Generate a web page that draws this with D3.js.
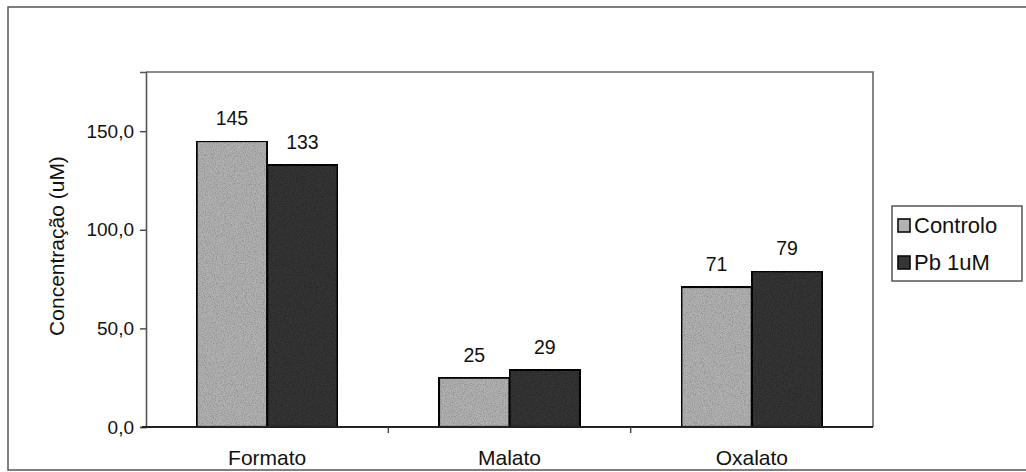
<!DOCTYPE html>
<html>
<head>
<meta charset="utf-8">
<script src="https://cdn.jsdelivr.net/npm/d3@7"></script>
<style>
  html, body { margin: 0; padding: 0; background: #fff; }
  svg { display: block; }
  text { font-family: "Liberation Sans", Arial, sans-serif; fill: #111; }
</style>
</head>
<body>
<svg id="chart" width="1026" height="472"></svg>
<script>
// Organic acid concentrations (uM)
const categories = ["Formato", "Malato", "Oxalato"];
const seriesNames = ["Controlo", "Pb 1uM"];
const controlo = [145, 25, 71];
const pb1uM = [133, 29, 79];
const yTicks = [0, 50, 100, 150];

const seriesValues = [controlo, pb1uM];
const fills = ["#b2b2b2", "#353535"];

const svg = d3.select("#chart");
const plot = { left: 146, right: 873, top: 72, bottom: 427 };

// Grain for the bar fills
const defs = svg.append("defs");
const grain = defs.append("filter").attr("id", "grain")
  .attr("x", 0).attr("y", 0).attr("width", 1).attr("height", 1);
grain.append("feTurbulence").attr("type", "fractalNoise")
  .attr("baseFrequency", 0.9).attr("numOctaves", 2).attr("seed", 3).attr("result", "noise");
grain.append("feColorMatrix").attr("in", "noise").attr("type", "matrix")
  .attr("values", "0 0 0 0 0  0 0 0 0 0  0 0 0 0 0  -0.9 0 0 0 0.55")
  .attr("result", "dots");
grain.append("feComposite").attr("in", "dots").attr("in2", "SourceGraphic")
  .attr("operator", "in").attr("result", "dotsIn");
const gm = grain.append("feMerge");
gm.append("feMergeNode").attr("in", "SourceGraphic");
gm.append("feMergeNode").attr("in", "dotsIn");

// Outer frame
svg.append("rect")
  .attr("x", 8).attr("y", 7).attr("width", 1030).attr("height", 463)
  .attr("fill", "none").attr("stroke", "#555").attr("stroke-width", 1.5);

// Scales
const y = d3.scaleLinear().domain([0, 180]).range([plot.bottom, plot.top]);
const x0 = d3.scaleBand().domain(categories).range([plot.left, plot.right])
  .paddingInner(0.418).paddingOuter(0.209);
const x1 = d3.scaleBand().domain(seriesNames).range([0, x0.bandwidth()]);
const xStep = d3.scaleBand().domain(categories).range([plot.left, plot.right]);

// Plot frame (top and right)
svg.append("path")
  .attr("d", `M${plot.left},${plot.top}H${plot.right}V${plot.bottom}`)
  .attr("fill", "none").attr("stroke", "#666").attr("stroke-width", 1.6);

// Bars
const groups = svg.append("g").selectAll("g")
  .data(categories).join("g")
  .attr("transform", d => `translate(${x0(d)},0)`);

groups.selectAll("rect")
  .data((c, i) => seriesNames.map((s, j) => ({ s, j, v: seriesValues[j][i] })))
  .join("rect")
  .attr("x", d => x1(d.s))
  .attr("y", d => y(d.v))
  .attr("width", x1.bandwidth())
  .attr("height", d => y(0) - y(d.v))
  .attr("fill", d => fills[d.j])
  .attr("filter", "url(#grain)")
  .attr("stroke", "#0a0a0a").attr("stroke-width", 2.2);

// Value labels
groups.selectAll("text.val")
  .data((c, i) => seriesNames.map((s, j) => ({ s, j, v: seriesValues[j][i] })))
  .join("text").attr("class", "val")
  .attr("x", d => x1(d.s) + x1.bandwidth() / 2)
  .attr("y", d => y(d.v) - 16)
  .attr("text-anchor", "middle")
  .style("font-size", "19.5px")
  .text(d => d.v);

// Y axis
const yAxis = svg.append("g")
  .attr("transform", `translate(${plot.left},0)`)
  .call(d3.axisLeft(y).tickValues(yTicks).tickSize(6).tickPadding(6)
    .tickFormat(d => d3.format(".1f")(d).replace(".", ",")));
yAxis.select(".domain").attr("stroke", "#555").attr("stroke-width", 1.6);
yAxis.selectAll(".tick line").attr("stroke", "#444").attr("stroke-width", 1.4);
yAxis.selectAll(".tick text")
  .style("font-size", "19px").attr("fill", "#111")
  .style("font-family", "'Liberation Sans', Arial, sans-serif");

// X axis baseline with ticks between categories
const xAxis = svg.append("g").attr("transform", `translate(0,${plot.bottom})`);
xAxis.append("line")
  .attr("x1", plot.left - 4).attr("x2", plot.right)
  .attr("stroke", "#222").attr("stroke-width", 2.2);
xAxis.selectAll("line.tk")
  .data(categories.slice(1)).join("line").attr("class", "tk")
  .attr("x1", d => xStep(d)).attr("x2", d => xStep(d))
  .attr("y1", 0).attr("y2", 6)
  .attr("stroke", "#444").attr("stroke-width", 1.4);
xAxis.selectAll("text")
  .data(categories).join("text")
  .attr("x", d => xStep(d) + xStep.bandwidth() / 2)
  .attr("y", 38)
  .attr("text-anchor", "middle")
  .style("font-size", "21px")
  .text(d => d);

// Y axis title
svg.append("text")
  .attr("transform", "translate(64,246) rotate(-90)")
  .attr("text-anchor", "middle")
  .style("font-size", "21px")
  .text("Concentração (uM)");

// Legend
const legend = svg.append("g").attr("transform", "translate(892,206)");
legend.append("rect")
  .attr("width", 130).attr("height", 75)
  .attr("fill", "#fff").attr("stroke", "#555").attr("stroke-width", 1.5);
const items = legend.selectAll("g").data(seriesNames).join("g")
  .attr("transform", (d, i) => `translate(6,${19 + i * 37})`);
items.append("rect")
  .attr("x", 0).attr("y", -6).attr("width", 12).attr("height", 13)
  .attr("fill", (d, i) => fills[i])
  .attr("stroke", "#0a0a0a").attr("stroke-width", 1.6);
items.append("text")
  .attr("x", 16).attr("y", 8)
  .style("font-size", "22px")
  .text(d => d);
</script>
</body>
</html>
